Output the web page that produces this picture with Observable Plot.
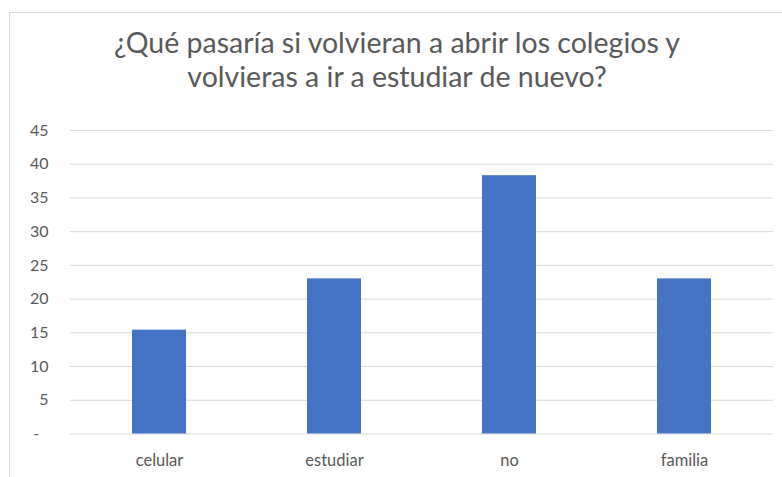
<!DOCTYPE html>
<html>
<head>
<meta charset="utf-8">
<script src="https://cdn.jsdelivr.net/npm/d3@7"></script>
<script src="https://cdn.jsdelivr.net/npm/@observablehq/plot@0.6"></script>
<style>
  html, body { margin: 0; padding: 0; background: #fff; width: 782px; height: 477px; overflow: hidden; }
  #frame { position: absolute; left: 9px; top: 12px; width: 800px; height: 500px;
           border-left: 1px solid #d9d9d9; border-top: 1px solid #d9d9d9; }
  #title { position: absolute; left: 0; top: 25px; width: 794px; text-align: center;
           font-family: Lato, "Open Sans", sans-serif; font-size: 28.5px; line-height: 34px;
           color: #595959; }
  #chart { position: absolute; left: 0; top: 110px; }
</style>
</head>
<body>
<div id="frame"></div>
<div id="title">¿Qué pasaría si volvieran a abrir los colegios y<br>volvieras a ir a estudiar de nuevo?</div>
<div id="chart"></div>
<script>
const categories = ["celular", "estudiar", "no", "familia"];
const values = [15.4, 23, 38.3, 23];
const yTicks = [0, 5, 10, 15, 20, 25, 30, 35, 40, 45];

const data = categories.map((c, i) => ({category: c, value: values[i]}));

const chart = Plot.plot({
  width: 782,
  height: 367,
  marginLeft: 70,
  marginRight: 9,
  marginTop: 20,
  marginBottom: 43.5,
  style: {fontFamily: "Lato, 'Open Sans', sans-serif", fontSize: "16px", color: "#595959", background: "transparent"},
  x: {domain: categories, paddingInner: 0.69, paddingOuter: 0.345, label: null},
  y: {domain: [0, 45], label: null},
  marks: [
    Plot.gridY(yTicks, {stroke: "#d9d9d9", strokeOpacity: 1, strokeWidth: 1}),
    Plot.barY(data, {x: "category", y: "value", fill: "#4472C4"}),
    Plot.axisY({ticks: yTicks, tickSize: 0, tickPadding: 22, fontSize: 16, tickFormat: d => d === 0 ? "-\u2007" : String(d), fill: "#595959"}),
    Plot.axisX({tickSize: 0, tickPadding: 20, fontSize: 16.5, fill: "#595959"})
  ]
});
document.getElementById("chart").appendChild(chart);
</script>
</body>
</html>
